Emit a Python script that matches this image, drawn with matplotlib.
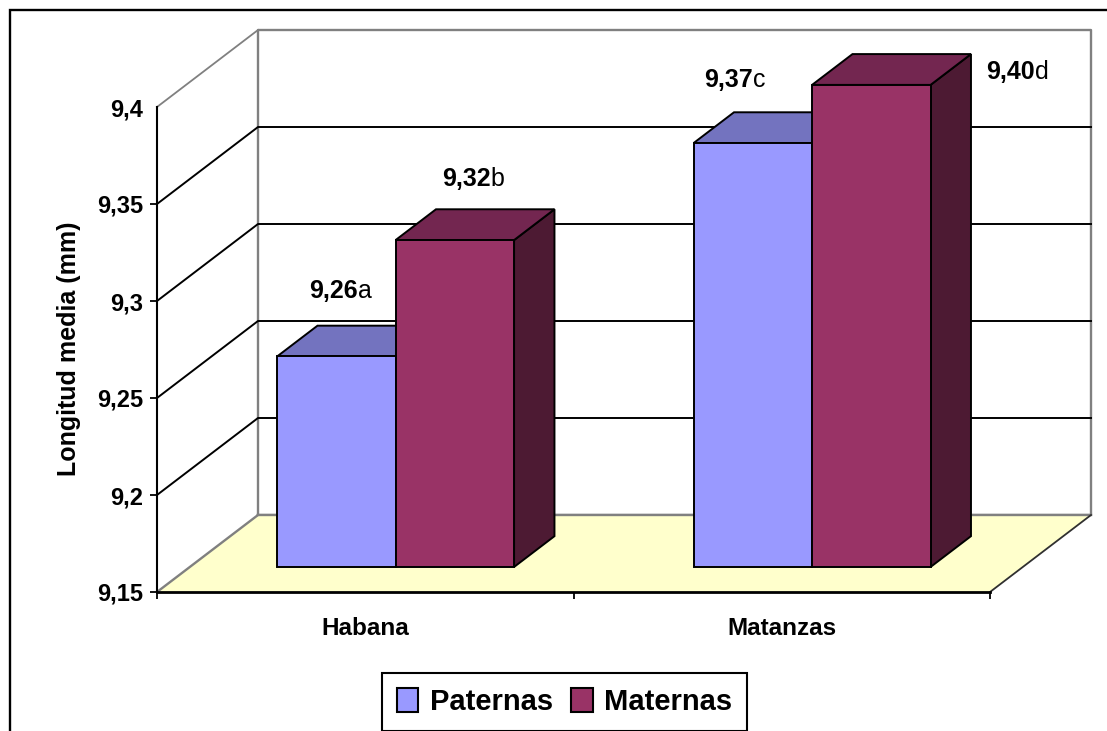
import matplotlib
matplotlib.use("Agg")
import matplotlib.pyplot as plt
from matplotlib.patches import Polygon, Patch, Rectangle

categories = ["Habana", "Matanzas"]
paternas = [9.2585, 9.3685]
maternas = [9.3185, 9.3985]
paternas_labels = [("9,26", "a"), ("9,37", "c")]
maternas_labels = [("9,32", "b"), ("9,40", "d")]
y_ticks = [9.15, 9.2, 9.25, 9.3, 9.35, 9.4]
y_tick_labels = ["9,15", "9,2", "9,25", "9,3", "9,35", "9,4"]

# label offsets from the front top centre of each bar, in pixels
paternas_offsets = [(3, 65), (-19, 63)]
maternas_offsets = [(17, 61), (145, 13)]

W, H = 1107, 731
plt.rcParams["font.family"] = ["Liberation Sans", "DejaVu Sans"]

fig = plt.figure(figsize=(W / 100, H / 100), dpi=100)
ax = fig.add_axes([157 / W, 1 - 592 / H, 833 / W, 485 / H])
ax.set_xlim(0, 2)
ax.set_ylim(9.15, 9.4)
ax.patch.set_visible(False)

# depth shear of the fake 3d box, in data units
DX = 101 / 416.5
DY = 77 / 485 * 0.25
BAR_D0, BAR_D1 = 0.325, 0.725
BAR_W = 0.2845
BAR_SHIFT = -0.006


def proj(x, v, d):
    return (x + d * DX, v + d * DY)


def poly(points, color, edge="black", lw=1.4, z=1):
    ax.add_patch(Polygon(points, closed=True, facecolor=color, edgecolor=edge,
                         linewidth=lw, zorder=z, clip_on=False, joinstyle="miter"))


def draw_bar(x0, x1, top, front, top_col, side, z):
    base = y_ticks[0]
    poly([proj(x1, base, BAR_D0), proj(x1, base, BAR_D1), proj(x1, top, BAR_D1), proj(x1, top, BAR_D0)], side, z=z)
    poly([proj(x0, top, BAR_D0), proj(x1, top, BAR_D0), proj(x1, top, BAR_D1), proj(x0, top, BAR_D1)], top_col, z=z)
    poly([proj(x0, base, BAR_D0), proj(x1, base, BAR_D0), proj(x1, top, BAR_D0), proj(x0, top, BAR_D0)], front, z=z)


def bar_label(x, v, texts, off):
    px, py = proj(x, v, BAR_D0)
    t = ax.annotate(texts[0], xy=(px, py), xycoords="data", xytext=(off[0] * 0.72 - 4, off[1] * 0.72),
                    textcoords="offset points", ha="center", va="center", fontsize=18, fontweight="bold",
                    zorder=10, annotation_clip=False)
    ax.annotate(texts[1], xy=(1, 0), xycoords=t, xytext=(0, 0), textcoords="offset points",
                ha="left", va="bottom", fontsize=18, zorder=10, annotation_clip=False)


# walls
grey = "#808080"
ymin, ymax = y_ticks[0], y_ticks[-1]
xs = [proj(0, ymin, 1), proj(0, ymax, 1), proj(2, ymax, 1), proj(2, ymin, 1), proj(0, ymin, 1)]
ax.plot(*zip(*xs), color=grey, lw=1.7, clip_on=False, zorder=0.6)
ax.plot(*zip((0, ymax), proj(0, ymax, 1)), color=grey, lw=1.3, clip_on=False, zorder=0.6)

# grid lines
for v in y_ticks[1:-1]:
    ax.plot(*zip((0, v), proj(0, v, 1), proj(2, v, 1)), color="black", lw=1.4, clip_on=False, zorder=0.7)

# floor
poly([(0, ymin), (2, ymin), proj(2, ymin, 1), proj(0, ymin, 1)], "#FFFFCC", edge="none", z=0.8)
ax.plot(*zip((0, ymin), proj(0, ymin, 1)), color=grey, lw=1.7, clip_on=False, zorder=0.9)
ax.plot(*zip(proj(0, ymin, 1), proj(2, ymin, 1)), color=grey, lw=1.7, clip_on=False, zorder=0.9)
ax.plot(*zip((2, ymin), proj(2, ymin, 1)), color="#303030", lw=1.3, clip_on=False, zorder=0.9)

# bars
for i in range(len(categories)):
    c = i + 0.5 + BAR_SHIFT
    draw_bar(c - BAR_W, c, paternas[i], "#9999FF", "#7373BF", "#4D4D80", 2)
    draw_bar(c, c + BAR_W, maternas[i], "#993366", "#732650", "#4D1A33", 2.1)
    bar_label(c - BAR_W / 2, paternas[i], paternas_labels[i], paternas_offsets[i])
    bar_label(c + BAR_W / 2, maternas[i], maternas_labels[i], maternas_offsets[i])

# axes
for s in ["top", "right"]:
    ax.spines[s].set_visible(False)
ax.spines["left"].set_linewidth(1.5)
ax.spines["bottom"].set_linewidth(2)
ax.set_yticks(y_ticks)
ax.set_yticklabels(y_tick_labels, fontsize=17, fontweight="bold")
ax.yaxis.get_major_ticks()[-1].tick1line.set_visible(False)
ax.tick_params(axis="y", length=5, width=1.3, pad=5)
ax.set_xticks([0, 1, 2])
ax.set_xticklabels([])
ax.tick_params(axis="x", which="major", length=5, width=1.3)
ax.set_xticks([0.5, 1.5], minor=True)
ax.set_xticklabels(categories, minor=True, fontsize=17.5, fontweight="bold")
ax.tick_params(axis="x", which="minor", length=0, pad=18)
ax.set_ylabel("Longitud media (mm)", fontsize=18, fontweight="bold")
ax.yaxis.set_label_coords((81 - 157) / 833, 0.5 + (592 - 349 - 242.5) / 485)

# legend
handles = [Patch(facecolor="#9999FF", edgecolor="black", linewidth=1.5, label="Paternas"),
           Patch(facecolor="#993366", edgecolor="black", linewidth=1.5, label="Maternas")]
fig.legend(handles=handles, ncol=2, loc="center", bbox_to_anchor=(564.5 / W, 1 - 702 / H),
           fancybox=False, framealpha=1, edgecolor="black", handlelength=0.75, handleheight=0.85,
           columnspacing=0.6, handletextpad=0.4, borderpad=0.5,
           prop={"weight": "bold", "size": 21}).get_frame().set_linewidth(1.5)

# outer chart border, runs off the right and bottom of the image
fig.add_artist(Rectangle((9.5 / W, -0.1), 1.1, 1.1 - 10 / H, transform=fig.transFigure,
                         facecolor="none", edgecolor="black", linewidth=1.7))

fig.savefig("out.png", dpi=100)
